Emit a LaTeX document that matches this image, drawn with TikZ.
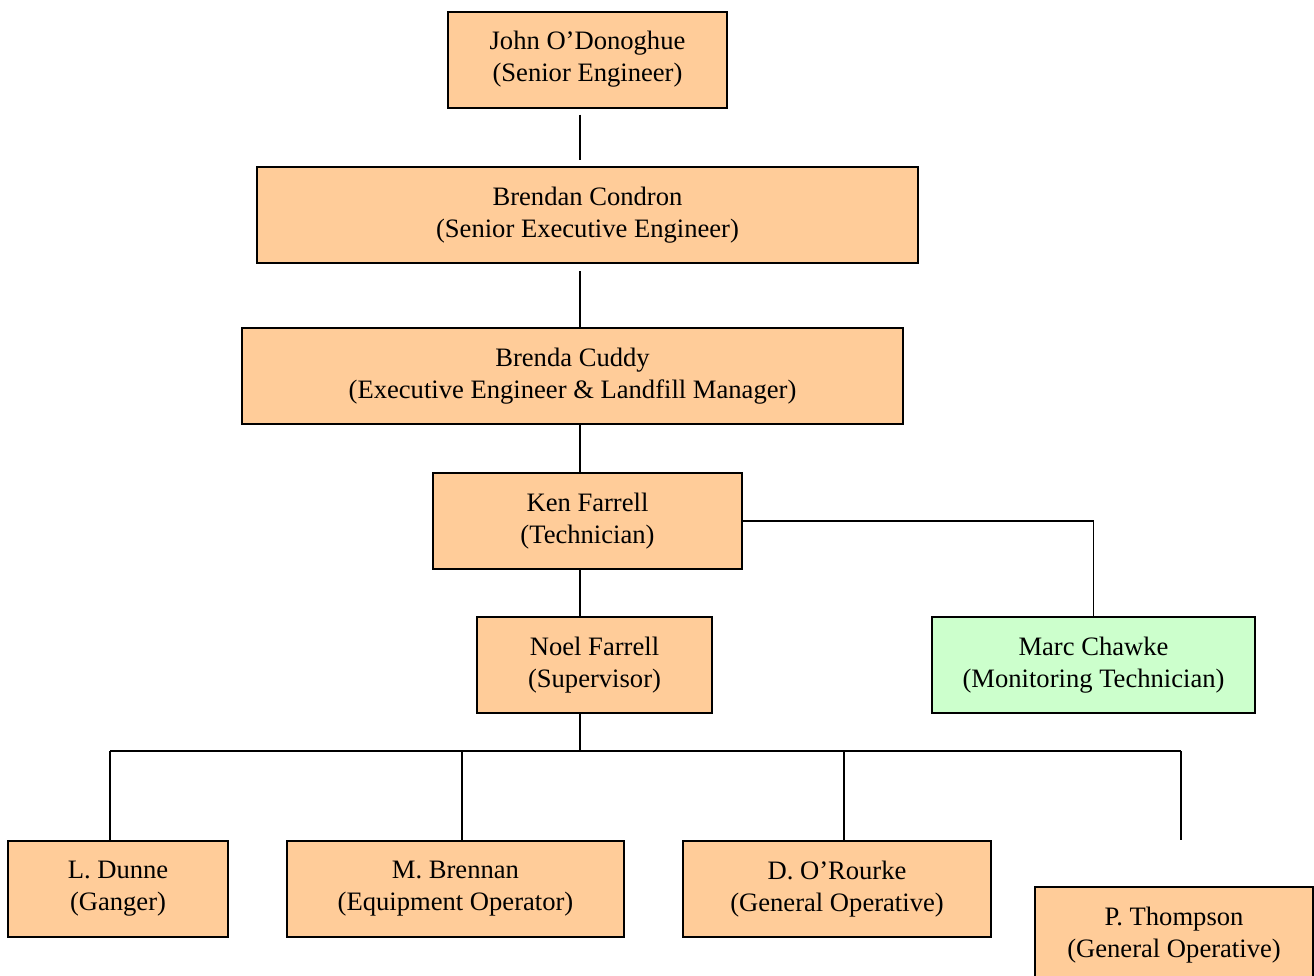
\documentclass[tikz,border=0pt]{standalone}
\usepackage{fontspec}
\setmainfont{Liberation Serif}
\usepackage{tikz}
\usetikzlibrary{calc}
\definecolor{peach}{HTML}{FFCC99}
\definecolor{mint}{HTML}{CCFFCC}

\begin{document}
\begin{tikzpicture}[x=0.5pt,y=-0.5pt,
   caja/.style={draw,line width=1pt,fill=peach,minimum height=48pt,inner sep=0pt,
      align=center,font=\fontsize{13.3}{16}\selectfont},
   linea/.style={line width=0.9pt}]
   \useasboundingbox (0,0) rectangle (1314,976);
   %cajas
   \node[caja,minimum width=139.5pt] (john) at (587.5,59.5) {John O'Donoghue\\(Senior Engineer)};
   \node[caja,minimum width=330.5pt] (brendan) at (587.5,215) {Brendan Condron\\(Senior Executive Engineer)};
   \node[caja,minimum width=330.5pt] (brenda) at (572.5,376) {Brenda Cuddy\\(Executive Engineer \& Landfill Manager)};
   \node[caja,minimum width=154.5pt] (ken) at (587.5,521) {Ken Farrell\\(Technician)};
   \node[caja,minimum width=117.5pt] (noel) at (594.5,665) {Noel Farrell\\(Supervisor)};
   \node[caja,fill=mint,minimum width=161.5pt] (marc) at (1093.5,665) {Marc Chawke\\(Monitoring Technician)};
   \node[caja,minimum width=110pt] (dunne) at (118,889) {L. Dunne\\(Ganger)};
   \node[caja,minimum width=168.5pt] (brennan) at (455.5,889) {M. Brennan\\(Equipment Operator)};
   \node[caja,minimum width=154pt] (orourke) at (837,889) {D. O'Rourke\\(General Operative)};
   \node[caja,minimum width=139pt] (thompson) at (1174,935) {P. Thompson\\(General Operative)};
   %eje
   \coordinate (eje) at (580,0);
   \coordinate (b1) at (110,751);
   \coordinate (b2) at (462,751);
   \coordinate (b3) at (844,751);
   \coordinate (b4) at (1181,751);
   %líneas
   \draw[linea] ($(eje |- john.south)+(0,6)$) -- ($(eje |- brendan.north)+(0,-6)$);
   \draw[linea] ($(eje |- brendan.south)+(0,7)$) -- (eje |- brenda.north);
   \draw[linea] (eje |- brenda.south) -- (eje |- ken.north);
   \draw[linea] (eje |- ken.south) -- (eje |- noel.north);
   \draw[linea] (ken.east) -| (marc.north);
   \draw[linea] (eje |- noel.south) -- (eje |- b1);
   \draw[linea] (b1) -- (b4);
   \draw[linea] (b1) -- (b1 |- dunne.north);
   \draw[linea] (b2) -- (b2 |- brennan.north);
   \draw[linea] (b3) -- (b3 |- orourke.north);
   \draw[linea] (b4) -- (b4 |- orourke.north);
\end{tikzpicture}
\end{document}
